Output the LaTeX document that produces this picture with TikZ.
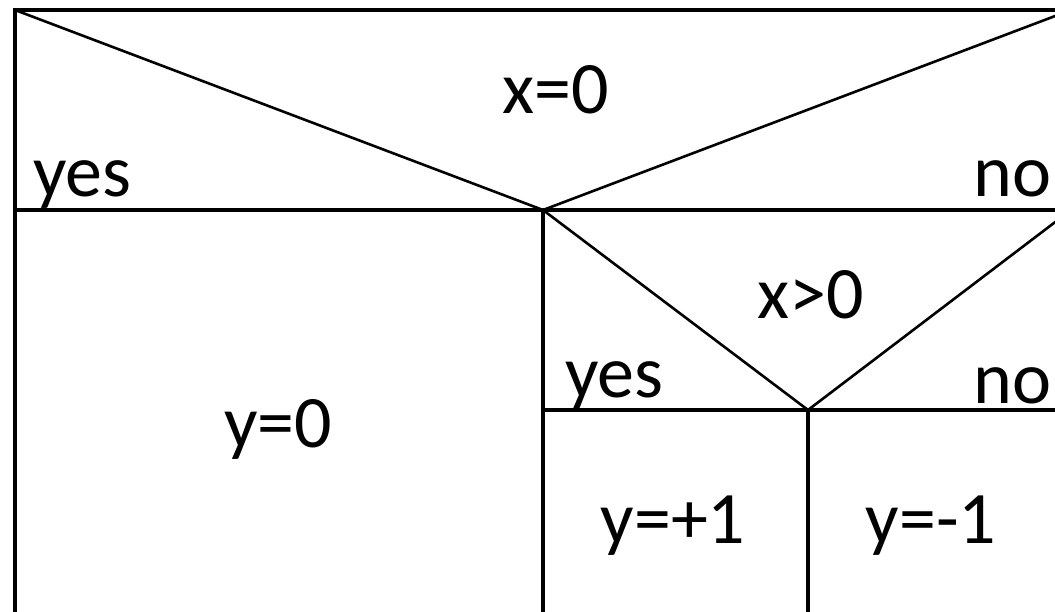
\documentclass[tikz,border=0pt]{standalone}
\usepackage{fontspec}
\setmainfont{Carlito}
\usetikzlibrary{positioning}
\tikzset{
  frame/.style={line width=3.5pt,line cap=rect},
  diag/.style={line width=2.6pt},
  lbl/.style={inner sep=0pt,font=\fontsize{74}{80}\selectfont}
}
\begin{document}
\begin{tikzpicture}[x=1pt,y=-1pt]
\useasboundingbox (0,0) rectangle (1055,611);
\clip (0,0) rectangle (1055,611);
% corners and apexes
\coordinate (tl) at (15,10);
\coordinate (tr) at (1071,10);
\coordinate (ml) at (15,210);
\coordinate (mr) at (1071,210);
\coordinate (apexA) at (543,210);
\coordinate (sl) at (543,410);
\coordinate (sr) at (1071,410);
\coordinate (apexB) at (808,410);
\coordinate (botL) at (15,630);
\coordinate (botA) at (543,630);
\coordinate (botB) at (808,630);
% outer frame and rows
\draw[frame] (botL)--(tl)--(tr);
\draw[frame] (ml)--(mr);
\draw[frame] (apexA)--(botA);
\draw[frame] (sl)--(sr);
\draw[frame] (apexB)--(botB);
% condition triangles
\draw[diag] (tl)--(apexA)--(tr);
\draw[diag] (apexA)--(apexB)--(mr);
% labels
\node[lbl,anchor=base] (c1) at (556,113) {x=0};
\node[lbl,anchor=base west] (c1yes) at (33,196) {yes};
\node[lbl,anchor=base east] (c1no) at (1052,196) {no};
\node[lbl,anchor=base] (c2) at (811,318) {x>0};
\node[lbl,anchor=base west] (c2yes) at (565,397) {yes};
\node[lbl,anchor=base east] (c2no) at (1052,403) {no};
\node[lbl,anchor=base] (s0) at (278,447) {y=0};
\node[lbl,anchor=base] (s1) at (673,543) {y=+1};
\node[lbl,anchor=base] (s2) at (931,543) {y=-1};
\end{tikzpicture}
\end{document}
